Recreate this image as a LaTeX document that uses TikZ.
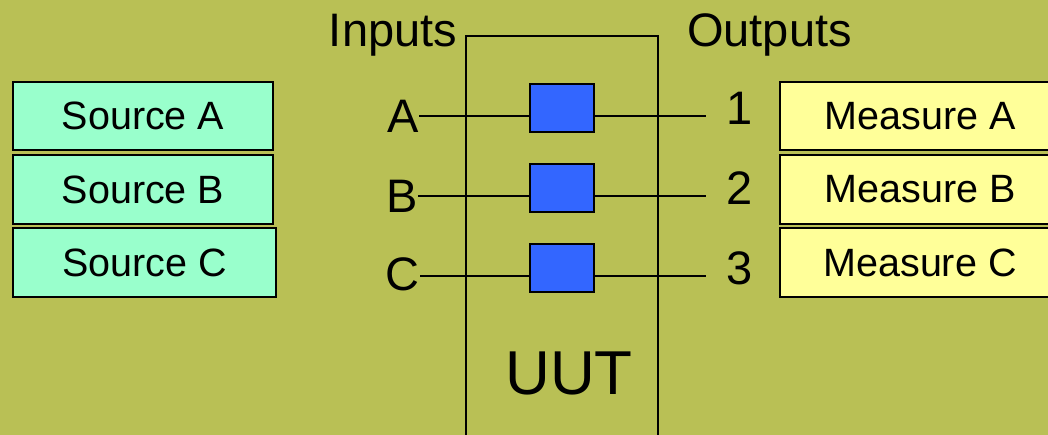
\documentclass[tikz,border=0pt]{standalone}
\usepackage{fontspec}
\setmainfont{Liberation Sans}
\definecolor{bg}{HTML}{B9C055}
\definecolor{srcfill}{HTML}{99FFCC}
\definecolor{measfill}{HTML}{FFFF99}
\definecolor{chip}{HTML}{3366FF}
\begin{document}
\begin{tikzpicture}[x=1pt,y=-1pt,
  box/.style={draw=black,line width=1.6pt,inner sep=0pt,minimum width=260pt,minimum height=68pt,font=\fontsize{39.5}{46}\selectfont},
  srcbox/.style={box,fill=srcfill},
  measbox/.style={box,fill=measfill,minimum width=280pt},
  chipbox/.style={draw=black,line width=1.6pt,fill=chip,minimum width=64pt,minimum height=48pt,inner sep=0pt},
  big/.style={inner sep=0pt,font=\fontsize{47}{54}\selectfont},
  wire/.style={line width=1.4pt}]
\fill[bg] (0,0) rectangle (1048,435);
\useasboundingbox (0,0) rectangle (1048,435);
\clip (0,0) rectangle (1048,435);
% sources
\node[srcbox] (srcA) at (143,116) {Source A\hspace{8pt}};
\node[srcbox,minimum height=69pt] (srcB) at (143,189.5) {Source B\hspace{8pt}};
\node[srcbox,minimum height=69pt,minimum width=263pt] (srcC) at (144.5,262.5) {Source C\hspace{10pt}};
% measures
\node[measbox] (measA) at (920,116) {Measure A};
\node[measbox,minimum height=69pt] (measB) at (920,189.5) {Measure B};
\node[measbox,minimum height=69pt] (measC) at (920,262.5) {Measure C};
% UUT
\node[draw=black,line width=1.6pt,minimum width=192pt,minimum height=410pt,inner sep=0pt] (uut) at (562,241) {};
\node[inner sep=0pt,font=\fontsize{62}{70}\selectfont] (uutlabel) at (569,373) {UUT};
% headings
\node[big,anchor=base] (inputs) at (393,47) {Inputs};
\node[big,anchor=base west] (outputs) at (687,47) {Outputs};
% chips
\node[chipbox] (chipA) at (562,108) {};
\node[chipbox] (chipB) at (562,188) {};
\node[chipbox] (chipC) at (562,268) {};
% input labels
\node[big,anchor=east] (inA) at (419,116) {A};
\node[big,anchor=east] (inB) at (418,196) {B};
\node[big,anchor=east] (inC) at (420,274) {C};
% output ends
\coordinate (oA) at (706,116);
\coordinate (oB) at (706,196);
\coordinate (oC) at (706,276);
\node[big,anchor=west] (nA) at (726,108) {1};
\node[big,anchor=west] (nB) at (726,188) {2};
\node[big,anchor=west] (nC) at (726,268) {3};
% wires
\draw[wire] (inA.east) -- (chipA.west |- inA.east);
\draw[wire] (chipA.east |- oA) -- (oA);
\draw[wire] (inB.east) -- (chipB.west |- inB.east);
\draw[wire] (chipB.east |- oB) -- (oB);
\draw[wire] (inC.east |- oC) -- (chipC.west |- oC);
\draw[wire] (chipC.east |- oC) -- (oC);
\end{tikzpicture}
\end{document}
